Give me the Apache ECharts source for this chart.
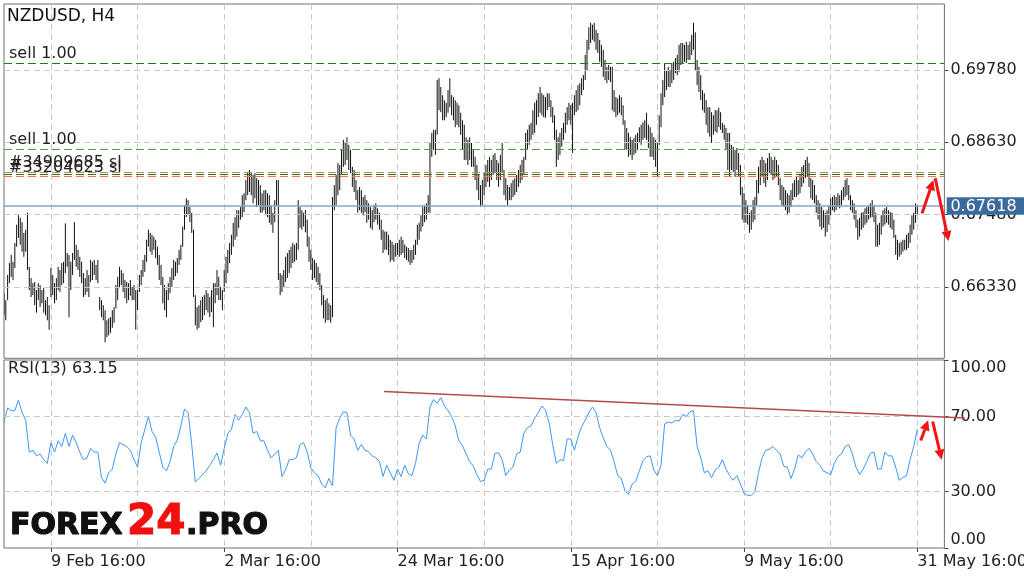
<!DOCTYPE html>
<html><head><meta charset="utf-8">
<script src="https://cdn.jsdelivr.net/npm/echarts@6/dist/echarts.min.js"></script>
<style>html,body{margin:0;padding:0;background:#fff}#c{width:1024px;height:577px}</style>
</head><body><div id="c"></div>
<script>
const symbolName = 'NZDUSD, H4';
const barHigh = [
0.6623,0.6612,0.6652,0.6671,0.6684,0.6673,0.6703,0.6732,0.6747,0.6743,0.6736,0.6719,0.6724,0.6751,0.6665,0.6647,0.6639,0.6641,0.6628,0.6639,0.6636,0.6628,0.6631,0.6612,0.6617,0.6604,
0.6663,0.6652,0.6639,0.6647,0.6665,0.6660,0.6671,0.6673,0.6734,0.6687,0.6684,0.6673,0.6687,0.6736,0.6700,0.6692,0.6681,0.6673,0.6655,0.6647,0.6660,0.6652,0.6676,0.6673,0.6676,0.6668,0.6676,
0.6617,0.6612,0.6604,0.6596,0.6580,0.6583,0.6585,0.6596,0.6601,0.6636,0.6649,0.6665,0.6660,0.6655,0.6644,0.6641,0.6639,0.6644,0.6633,0.6636,0.6628,0.6628,0.6652,0.6660,0.6676,0.6684,0.6708,0.6724,
0.6719,0.6716,0.6713,0.6708,0.6697,0.6684,0.6668,0.6649,0.6636,0.6628,0.6639,0.6649,0.6663,0.6676,0.6673,0.6679,0.6692,0.6700,0.6729,0.6763,0.6774,0.6771,0.6760,0.6751,0.6724,0.6620,0.6601,0.6604,
0.6612,0.6617,0.6620,0.6628,0.6623,0.6617,0.6628,0.6639,0.6639,0.6660,0.6649,0.6633,0.6628,0.6660,0.6681,0.6692,0.6703,0.6716,0.6735,0.6744,0.6755,0.6755,0.6760,0.6779,0.6782,0.6803,0.6816,0.6819,
0.6816,0.6811,0.6814,0.6806,0.6803,0.6795,0.6782,0.6787,0.6787,0.6782,0.6779,0.6763,0.6751,0.6771,0.6803,0.6803,0.6655,0.6652,0.6660,0.6681,0.6687,0.6692,0.6697,0.6703,0.6700,0.6703,0.6771,
0.6760,0.6755,0.6751,0.6755,0.6740,0.6713,0.6692,0.6679,0.6676,0.6671,0.6665,0.6655,0.6636,0.6620,0.6612,0.6615,0.6607,0.6604,0.6776,0.6795,0.6811,0.6830,0.6827,
0.6851,0.6867,0.6862,0.6871,0.6859,0.6851,0.6824,0.6819,0.6803,0.6787,0.6792,0.6787,0.6776,0.6779,0.6771,0.6766,0.6760,0.6755,0.6763,0.6766,0.6758,0.6751,0.6740,0.6724,0.6721,0.6721,0.6716,0.6708,0.6705,0.6700,0.6703,0.6703,0.6708,0.6713,0.6708,0.6700,0.6697,0.6695,0.6692,0.6692,0.6700,0.6708,0.6732,0.6735,0.6747,0.6760,0.6763,0.6766,0.6779,
0.6862,0.6878,0.6883,0.6883,0.6962,0.6965,0.6951,0.6938,0.6930,0.6926,0.6946,0.6965,0.6938,0.6935,0.6930,0.6926,0.6922,0.6910,0.6898,0.6891,0.6871,0.6867,0.6871,0.6862,0.6851,0.6840,0.6827,0.6811,0.6795,0.6803,0.6816,0.6827,0.6835,0.6840,0.6835,0.6843,0.6846,0.6835,0.6830,0.6843,0.6862,0.6819,0.6806,0.6795,0.6792,0.6798,0.6803,0.6806,0.6811,0.6819,0.6827,0.6835,0.6840,0.6878,0.6883,0.6891,0.6894,0.6914,0.6926,0.6930,0.6941,0.6951,
0.6941,0.6938,0.6935,0.6941,0.6941,0.6930,0.6919,0.6906,0.6883,0.6871,0.6878,0.6886,0.6894,0.6910,0.6919,0.6926,0.6922,0.6926,0.6938,0.6946,0.6954,0.6957,0.6965,0.6970,0.7002,0.7026,0.7046,0.7053,0.7050,0.7053,0.7042,0.7037,0.7026,0.7018,0.7010,0.6994,0.6983,0.6986,0.6983,0.6983,0.6946,0.6935,0.6933,0.6938,0.6935,0.6922,0.6898,0.6886,0.6878,0.6871,0.6867,0.6870,0.6875,0.6878,0.6887,0.6891,0.6895,0.6898,0.6910,0.6891,0.6887,0.6878,0.6871,0.6867,0.6862,0.6906,0.6941,0.6962,0.6989,0.6978,0.6983,0.6978,0.6989,0.6991,0.6997,
0.7002,0.7018,0.7021,0.7021,0.7018,0.7023,0.7018,0.7023,0.7034,0.7053,0.7038,0.6994,0.6983,0.6970,0.6946,0.6941,0.6930,0.6919,0.6919,0.6911,0.6906,0.6914,0.6914,0.6918,0.6911,0.6894,0.6891,0.6886,0.6878,0.6878,0.6859,0.6856,0.6851,0.6854,0.6846,0.6827,0.6792,0.6782,0.6771,0.6763,0.6751,0.6755,0.6771,0.6776,0.6803,0.6824,0.6835,0.6840,
0.6835,0.6830,0.6838,0.6846,0.6840,0.6835,0.6840,0.6835,0.6827,0.6806,0.6795,0.6792,0.6787,0.6782,0.6779,0.6787,0.6798,0.6803,0.6808,0.6803,0.6811,0.6824,0.6827,0.6835,0.6840,0.6830,0.6806,0.6803,0.6795,0.6779,0.6771,0.6766,0.6760,0.6755,0.6751,0.6755,0.6763,0.6774,0.6776,0.6779,0.6776,0.6782,0.6779,0.6787,0.6792,0.6803,0.6806,0.6795,0.6779,0.6771,
0.6766,0.6755,0.6740,0.6743,0.6751,0.6752,0.6758,0.6760,0.6763,0.6766,0.6771,0.6763,0.6751,0.6732,0.6735,0.6747,0.6755,0.6758,0.6760,0.6755,0.6752,0.6751,0.6740,0.6716,0.6708,0.6703,0.6705,0.6708,0.6708,0.6716,0.6719,0.6732,0.6747,0.6751,0.6766,0.6763
];
const barLow = [
0.6588,0.6580,0.6612,0.6639,0.6649,0.6644,0.6663,0.6697,0.6711,0.6700,0.6689,0.6681,0.6689,0.6660,0.6628,0.6617,0.6620,0.6604,0.6592,0.6612,0.6601,0.6607,0.6592,0.6588,0.6580,0.6565,
0.6617,0.6620,0.6607,0.6612,0.6628,0.6625,0.6636,0.6639,0.6655,0.6665,0.6585,0.6628,0.6652,0.6676,0.6665,0.6660,0.6649,0.6639,0.6617,0.6620,0.6625,0.6617,0.6641,0.6644,0.6652,0.6644,0.6639,
0.6596,0.6585,0.6580,0.6545,0.6553,0.6556,0.6560,0.6568,0.6576,0.6599,0.6612,0.6631,0.6636,0.6625,0.6615,0.6607,0.6612,0.6619,0.6612,0.6612,0.6565,0.6596,0.6625,0.6636,0.6649,0.6657,0.6673,0.6697,
0.6689,0.6684,0.6692,0.6679,0.6668,0.6644,0.6636,0.6607,0.6596,0.6585,0.6612,0.6623,0.6633,0.6644,0.6650,0.6655,0.6668,0.6676,0.6697,0.6724,0.6744,0.6747,0.6736,0.6719,0.6617,0.6572,0.6565,0.6568,
0.6577,0.6580,0.6588,0.6596,0.6592,0.6585,0.6593,0.6569,0.6607,0.6620,0.6612,0.6612,0.6596,0.6625,0.6639,0.6655,0.6671,0.6684,0.6697,0.6708,0.6713,0.6727,0.6740,0.6744,0.6752,0.6771,0.6779,0.6784,
0.6779,0.6766,0.6774,0.6760,0.6763,0.6751,0.6751,0.6755,0.6747,0.6744,0.6735,0.6732,0.6719,0.6736,0.6763,0.6644,0.6620,0.6625,0.6633,0.6641,0.6647,0.6655,0.6663,0.6671,0.6673,0.6676,0.6692,
0.6727,0.6724,0.6729,0.6720,0.6697,0.6673,0.6660,0.6644,0.6647,0.6641,0.6636,0.6628,0.6604,0.6583,0.6576,0.6580,0.6580,0.6576,0.6585,0.6755,0.6763,0.6779,0.6787,
0.6811,0.6824,0.6827,0.6835,0.6819,0.6814,0.6792,0.6784,0.6771,0.6751,0.6755,0.6751,0.6747,0.6752,0.6735,0.6740,0.6727,0.6724,0.6736,0.6740,0.6732,0.6724,0.6708,0.6687,0.6692,0.6692,0.6684,0.6673,0.6676,0.6673,0.6681,0.6684,0.6681,0.6684,0.6687,0.6679,0.6676,0.6673,0.6668,0.6671,0.6676,0.6684,0.6700,0.6708,0.6721,0.6729,0.6736,0.6740,0.6751,
0.6751,0.6840,0.6851,0.6843,0.6875,0.6914,0.6911,0.6898,0.6898,0.6903,0.6910,0.6919,0.6906,0.6898,0.6887,0.6891,0.6887,0.6875,0.6851,0.6835,0.6835,0.6827,0.6835,0.6824,0.6824,0.6803,0.6787,0.6771,0.6760,0.6763,0.6779,0.6792,0.6800,0.6792,0.6803,0.6811,0.6814,0.6803,0.6792,0.6803,0.6814,0.6779,0.6771,0.6763,0.6771,0.6771,0.6776,0.6779,0.6784,0.6792,0.6798,0.6803,0.6811,0.6835,0.6851,0.6859,0.6867,0.6875,0.6878,0.6891,0.6903,0.6910,
0.6906,0.6903,0.6902,0.6914,0.6919,0.6903,0.6894,0.6867,0.6824,0.6835,0.6843,0.6856,0.6867,0.6878,0.6891,0.6898,0.6891,0.6846,0.6906,0.6911,0.6914,0.6922,0.6938,0.6946,0.6962,0.6978,0.7010,0.7021,0.7026,0.7023,0.7010,0.7005,0.6991,0.6983,0.6967,0.6962,0.6957,0.6962,0.6959,0.6914,0.6911,0.6903,0.6906,0.6910,0.6906,0.6891,0.6851,0.6851,0.6840,0.6843,0.6835,0.6843,0.6846,0.6851,0.6862,0.6859,0.6867,0.6870,0.6867,0.6854,0.6840,0.6840,0.6835,0.6824,0.6808,0.6859,0.6887,0.6922,0.6935,0.6946,0.6951,0.6951,0.6957,0.6962,0.6973,
0.6970,0.6975,0.6986,0.6989,0.6991,0.6989,0.6994,0.6994,0.7002,0.7010,0.6978,0.6954,0.6943,0.6930,0.6914,0.6910,0.6891,0.6878,0.6872,0.6862,0.6875,0.6880,0.6878,0.6887,0.6883,0.6878,0.6867,0.6851,0.6819,0.6808,0.6819,0.6816,0.6808,0.6819,0.6808,0.6779,0.6740,0.6735,0.6735,0.6732,0.6719,0.6724,0.6736,0.6740,0.6763,0.6782,0.6795,0.6808,
0.6798,0.6792,0.6803,0.6814,0.6811,0.6803,0.6806,0.6808,0.6795,0.6771,0.6763,0.6760,0.6755,0.6747,0.6751,0.6760,0.6771,0.6776,0.6776,0.6779,0.6782,0.6792,0.6798,0.6806,0.6808,0.6792,0.6774,0.6771,0.6766,0.6751,0.6740,0.6729,0.6724,0.6727,0.6713,0.6720,0.6732,0.6747,0.6755,0.6752,0.6755,0.6760,0.6758,0.6763,0.6771,0.6776,0.6779,0.6771,0.6755,0.6751,
0.6740,0.6727,0.6708,0.6713,0.6724,0.6727,0.6732,0.6735,0.6740,0.6743,0.6744,0.6736,0.6697,0.6697,0.6700,0.6716,0.6729,0.6732,0.6735,0.6732,0.6727,0.6724,0.6711,0.6684,0.6676,0.6681,0.6684,0.6689,0.6692,0.6692,0.6695,0.6703,0.6716,0.6724,0.6735,0.6747
];
const rsiPeriod = 13;
const rsiStepBars = 2;
const rsiValues = [
67,74.5,73,73,78.7,72,68,51,52,49, 50,47,45,56,51,57,54,61,54,60,
56,51,47,48,53,51,51,37.5,34.5,40, 42,50,56,55,54,52,47,43,56,63,
70,62,59,51,43,41,46,54,57.4,65, 74,72,55,35,37,39,41,44,47,50.5,
44,53,61,63,71,68,71,75,72,61, 62,57,57,52,48,50,52,38,41.5,47,
47,48,55,56,51,42.5,40,38.5,34,32, 37,33,64,69,72.5,72,60,58,52,55,
52,51.2,49,48,46,38,44,40,36,42, 38,44,39.5,38.5,45,55.7,60,58,75,79,
77,80,75.5,73,70,65,57,54.5,50,46, 43.5,39,35.3,36,42,42,50.4,50.6,47,38.5,
41.5,43,50,51,61,64,65,69,72,75.5, 73.4,66.5,55,45,47,46.5,58,58,52,59,
64.5,68,72,75,72,64,58.5,54,52,46, 38.5,37,30.5,28.5,34,35.5,41,46.5,48.6,49,
41.5,38.5,44,66,67,66.5,68,67.5,71,70, 72.5,73,54,48,40,41,37.5,41.5,43,47,
42,38.5,36,38.5,34,29,28,28,30,40, 48,52,52.5,54,52,50,43.5,43,37,42,
49.5,48,51,53,50,46,44,41,40,39, 45,48.6,50,54,55,50,43,39,42,46,
50.4,51,42,42,51,49,49,43,36,37.5, 38.5,47,54,63.15
];
const xTickBars = [26, 122, 218, 314, 410, 506];
const xTickLabels = ['9 Feb 16:00', '2 Mar 16:00', '24 Mar 16:00', '15 Apr 16:00', '9 May 16:00', '31 May 16:00'];
const gridEveryBars = 48;
const totalSlots = 522;
const priceMin = 0.65195, priceMax = 0.70830;
const priceTicks = [0.66330, 0.67480, 0.68630, 0.69780];
const rsiTicks = [0, 30, 70, 100];
const rsiGridLevels = [30, 70];
const lastPrice = 0.67618;
const sellLevels = [0.69891, 0.68523];
const sellLabels = ['sell 1.00', 'sell 1.00'];
const slLevels = [0.68162, 0.68083];
const slLabels = ['#34909685 sl', '#33204623 sl'];
const openLevel = 0.68126;
const rsiTrend = [[210.5, 83.2], [532.4, 69.2]];
const priceArrows = [[[508.6, 0.6750], [514.9, 0.6803]], [[515.9, 0.6806], [523.3, 0.6706]]];
const rsiArrows = [[[507.9, 57.2], [512.0, 67.9]], [[514.5, 67.3], [519.5, 47.0]]];

const FONT = 'DejaVu Sans';
const cats = Array.from({length: totalSlots}, (_, i) => {
  const j = xTickBars.indexOf(i); return j >= 0 ? xTickLabels[j] : '';
});
const isGridBar = (i) => i >= xTickBars[0] % gridEveryBars && (i - xTickBars[0]) % gridEveryBars === 0;
const vGrid = {show: true, interval: (i) => isGridBar(i), lineStyle: {color: '#c9c9c9', type: [6, 4], width: 1}};
const hGridStyle = {color: '#c9c9c9', type: [6, 4], width: 1};
const txt = {color: '#222', fontSize: 16, fontFamily: FONT};

const chart = echarts.init(document.getElementById('c'), null, {renderer: 'canvas'});
chart.setOption({
  animation: false,
  grid: [
    {left: 4, top: 4, width: 940.4, height: 354.3, show: true, borderColor: '#707070', borderWidth: 1, containLabel: false, outerBoundsMode: 'none'},
    {left: 4, top: 360, width: 940.4, height: 188, show: true, borderColor: '#707070', borderWidth: 1, containLabel: false, outerBoundsMode: 'none'}
  ],
  xAxis: [
    {gridIndex: 0, type: 'category', data: cats, boundaryGap: false, axisLine: {show: false}, axisTick: {show: false}, axisLabel: {show: false}, splitLine: vGrid},
    {gridIndex: 1, type: 'category', data: cats, boundaryGap: false, axisLine: {show: false},
      axisTick: {show: true, interval: (i, v) => v !== '', length: 4, lineStyle: {color: '#444'}},
      axisLabel: Object.assign({show: true, interval: (i, v) => v !== '', align: 'left', margin: 6}, txt),
      splitLine: vGrid}
  ],
  yAxis: [
    {gridIndex: 0, type: 'value', position: 'right', min: priceMin, max: priceMax, scale: true,
      splitLine: {show: false}, axisLine: {show: false},
      axisTick: {show: true, customValues: priceTicks, length: 4, lineStyle: {color: '#444'}},
      axisLabel: Object.assign({customValues: priceTicks, formatter: (v) => v.toFixed(5), margin: 6}, txt)},
    {gridIndex: 1, type: 'value', position: 'right', min: 0, max: 100,
      splitLine: {show: false}, axisLine: {show: false},
      axisTick: {show: true, customValues: rsiTicks, length: 4, lineStyle: {color: '#444'}},
      axisLabel: Object.assign({customValues: rsiTicks, formatter: (v) => v.toFixed(2), margin: 6,
        verticalAlignMinLabel: 'bottom', verticalAlignMaxLabel: 'top'}, txt)}
  ],
  series: [
    {type: 'line', xAxisIndex: 0, yAxisIndex: 0, data: [], z: 1, silent: true,
      markLine: {symbol: 'none', silent: true, animation: false, precision: 6, label: {show: false}, lineStyle: hGridStyle,
        data: priceTicks.map(v => ({yAxis: v}))}},
    {type: 'custom', xAxisIndex: 0, yAxisIndex: 0, z: 3, silent: true, clip: true,
      data: barHigh.map((h, i) => [i, h, barLow[i]]),
      encode: {x: 0, y: [1, 2]},
      renderItem: (params, api) => {
        const i = api.value(0);
        const a = api.coord([i, api.value(1)]);
        const b = api.coord([i, api.value(2)]);
        return {type: 'line', shape: {x1: a[0], y1: a[1], x2: b[0], y2: b[1]}, style: {stroke: '#111', lineWidth: 1}};
      }},
    {type: 'line', xAxisIndex: 0, yAxisIndex: 0, data: [], z: 5, silent: true,
      markLine: {symbol: 'none', silent: true, animation: false, precision: 6, label: {show: false},
        data: [
          {yAxis: sellLevels[0], lineStyle: {color: '#1d7a1d', type: [8, 4], width: 1},
            label: Object.assign({show: true, formatter: sellLabels[0], position: 'insideStartTop', distance: [5, 1]}, txt)},
          {yAxis: sellLevels[1], lineStyle: {color: '#4aa04a', type: [8, 4], width: 1},
            label: Object.assign({show: true, formatter: sellLabels[1], position: 'insideStartTop', distance: [5, 1]}, txt)},
          {yAxis: slLevels[0], lineStyle: {color: '#f07850', type: [8, 4], width: 1},
            label: Object.assign({show: true, formatter: slLabels[0], position: 'insideStartTop', distance: [5, 1]}, txt)},
          {yAxis: openLevel, lineStyle: {color: '#1d7a1d', type: [8, 4], width: 1}},
          {yAxis: slLevels[1], lineStyle: {color: '#f07850', type: [8, 4], width: 1},
            label: Object.assign({show: true, formatter: slLabels[1], position: 'insideStartTop', distance: [5, 1]}, txt)},
          {yAxis: lastPrice, lineStyle: {color: '#8aa6c4', type: 'solid', width: 1.5}}
        ]}},
    {type: 'line', xAxisIndex: 1, yAxisIndex: 1, data: [], z: 1, silent: true,
      markLine: {symbol: 'none', silent: true, animation: false, precision: 4, label: {show: false}, lineStyle: hGridStyle,
        data: rsiGridLevels.map(v => ({yAxis: v}))}},
    {type: 'line', xAxisIndex: 1, yAxisIndex: 1, z: 3, silent: true, showSymbol: false,
      data: rsiValues.map((v, k) => [k * rsiStepBars, v]),
      lineStyle: {color: '#3d96f2', width: 1}}
  ]
});

// annotations computed through the chart's own scales
const x0 = chart.convertToPixel({xAxisIndex: 0}, 0);
const xStep = (chart.convertToPixel({xAxisIndex: 0}, 100) - x0) / 100;
const px = (i) => x0 + i * xStep;
const pPrice = (pt) => [px(pt[0]), chart.convertToPixel({yAxisIndex: 0}, pt[1])];
const pRsi = (pt) => [px(pt[0]), chart.convertToPixel({yAxisIndex: 1}, pt[1])];
const gridRight = px(totalSlots - 1);

function arrow(p0, p1, color) {
  const dx = p1[0] - p0[0], dy = p1[1] - p0[1], len = Math.hypot(dx, dy);
  const ux = dx / len, uy = dy / len, hl = 10, hw = 5;
  const bx = p1[0] - ux * hl, by = p1[1] - uy * hl;
  return [
    {type: 'line', z: 100, shape: {x1: p0[0], y1: p0[1], x2: bx, y2: by}, style: {stroke: color, lineWidth: 3}},
    {type: 'polygon', z: 100, shape: {points: [[p1[0], p1[1]], [bx - uy * hw, by + ux * hw], [bx + uy * hw, by - ux * hw]]}, style: {fill: color}}
  ];
}
const yLast = chart.convertToPixel({yAxisIndex: 0}, lastPrice);
const t0 = pRsi(rsiTrend[0]), t1 = pRsi(rsiTrend[1]);
const elements = [
  {type: 'text', x: 7, y: 17, z: 50, style: {text: symbolName, font: '17px "DejaVu Sans"', fill: '#111', verticalAlign: 'middle', textVerticalAlign: 'middle'}},
  {type: 'text', x: 8, y: 369, z: 50, style: {text: 'RSI(' + rsiPeriod + ') ' + rsiValues[rsiValues.length - 1].toFixed(2), font: '16px "DejaVu Sans"', fill: '#222', verticalAlign: 'middle', textVerticalAlign: 'middle'}},
  {type: 'rect', z: 60, shape: {x: gridRight + 2.3, y: yLast - 8.8, width: 90, height: 17.6}, style: {fill: '#3b6a9c'}},
  {type: 'text', z: 61, x: gridRight + 6, y: yLast + 0.5, style: {text: lastPrice.toFixed(5), font: '16px "DejaVu Sans"', fill: '#fff', verticalAlign: 'middle', textVerticalAlign: 'middle'}},
  {type: 'line', z: 70, shape: {x1: t0[0], y1: t0[1], x2: t1[0], y2: t1[1]}, style: {stroke: '#b84848', lineWidth: 1.5}},
  {type: 'text', z: 80, x: 10, y: 526, style: {text: 'FOREX', font: 'bold 30px "DejaVu Sans"', fill: '#111', stroke: '#111', lineWidth: 1.2, verticalAlign: 'middle', textVerticalAlign: 'middle'}},
  {type: 'text', z: 80, x: 127, y: 523, style: {text: '24', font: 'bold 42px "DejaVu Sans"', fill: '#f01010', stroke: '#f01010', lineWidth: 1.2, verticalAlign: 'middle', textVerticalAlign: 'middle'}},
  {type: 'text', z: 80, x: 186, y: 526, style: {text: '.PRO', font: 'bold 30px "DejaVu Sans"', fill: '#111', stroke: '#111', lineWidth: 1.2, verticalAlign: 'middle', textVerticalAlign: 'middle'}}
];
priceArrows.forEach(a => elements.push(...arrow(pPrice(a[0]), pPrice(a[1]), '#f21414')));
rsiArrows.forEach(a => elements.push(...arrow(pRsi(a[0]), pRsi(a[1]), '#f21414')));
chart.setOption({graphic: {elements}});
</script>
</body></html>
